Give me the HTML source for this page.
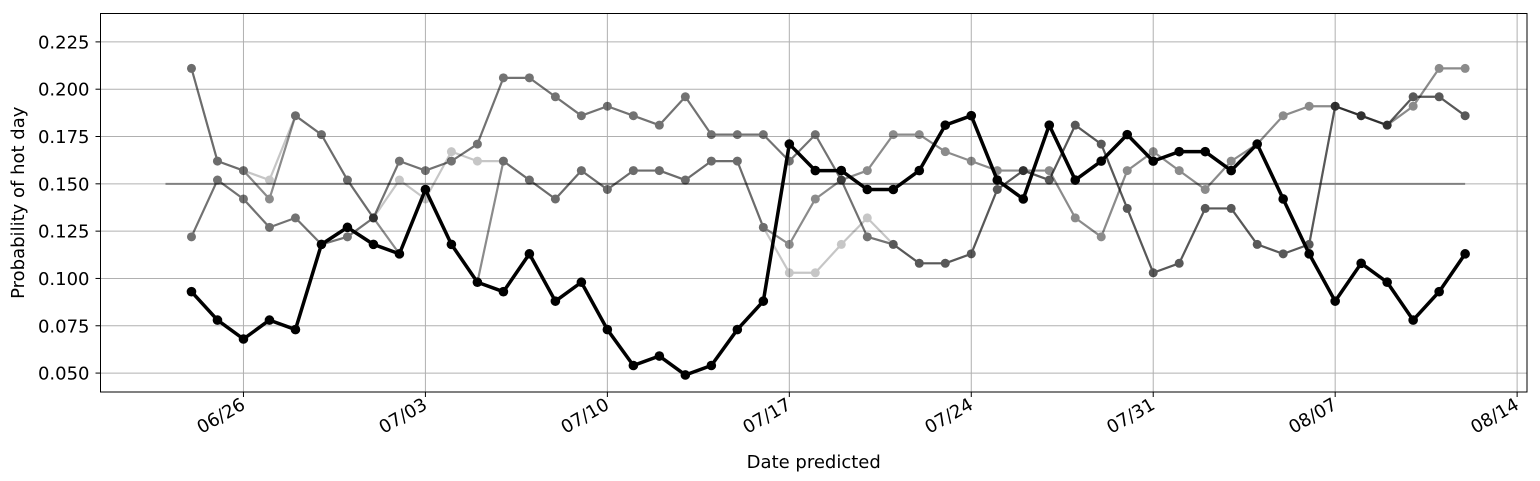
<!DOCTYPE html>
<html><head><meta charset="utf-8">
<style>
html,body{margin:0;padding:0;background:#fff;}
svg{display:block;font-family:"DejaVu Sans","Liberation Sans",sans-serif;}
</style></head>
<body>
<svg id="chart" width="1540" height="481" viewBox="0 0 1540 481" xmlns="http://www.w3.org/2000/svg"></svg>
<script>
const yTicks = [0.050,0.075,0.100,0.125,0.150,0.175,0.200,0.225];
const xTickLabels = ["06/26","07/03","07/10","07/17","07/24","07/31","08/07","08/14"];
const xTickDays = [2,9,16,23,30,37,44,51];
const baseline = 0.15;
const observed = [0.093,0.078,0.068,0.078,0.073,0.118,0.127,0.118,0.113,0.147,0.118,0.098,0.093,0.113,0.088,0.098,0.073,0.054,0.059,0.049,0.054,0.073,0.088,0.171,0.157,0.157,0.147,0.147,0.157,0.181,0.186,0.152,0.142,0.181,0.152,0.162,0.176,0.162,0.167,0.167,0.157,0.171,0.142,0.113,0.088,0.108,0.098,0.078,0.093,0.113];
const forecastDark = [0.122,0.152,0.142,0.127,0.132,0.118,0.122,0.132,0.162,0.157,0.162,0.171,0.206,0.206,0.196,0.186,0.191,0.186,0.181,0.196,0.176,0.176,0.176,0.162,0.176,0.152,0.122,0.118,0.108,0.108,0.113,0.147,0.157,0.152,0.181,0.171,0.137,0.103,0.108,0.137,0.137,0.118,0.113,0.118,0.191,0.186,0.181,0.196,0.196,0.186];
const forecastMid = [0.211,0.162,0.157,0.142,0.186,0.176,0.152,0.132,0.113,0.147,0.118,0.098,0.162,0.152,0.142,0.157,0.147,0.157,0.157,0.152,0.162,0.162,0.127,0.118,0.142,0.152,0.157,0.176,0.176,0.167,0.162,0.157,0.157,0.157,0.132,0.122,0.157,0.167,0.157,0.147,0.162,0.171,0.186,0.191,0.191,0.186,0.181,0.191,0.211,0.211];
const forecastLight = [0.211,0.162,0.157,0.152,0.186,0.176,0.152,0.132,0.152,0.142,0.167,0.162,0.162,0.152,0.142,0.157,0.147,0.157,0.157,0.152,0.162,0.162,0.127,0.103,0.103,0.118,0.132,0.118,0.108,0.108,0.113,0.147,0.157,0.152,0.181,0.171,0.137,0.103,0.108,0.137,0.137,0.118,0.113,0.118,0.191,0.186,0.181,0.196,0.196,0.186];

const L=100.5,R=1527,T=13.5,B=392;
const X0=-3.5,X1=51.38,Y0=0.04,Y1=0.24;
const sx=d=>L+(d-X0)/(X1-X0)*(R-L);
const sy=v=>B-(v-Y0)/(Y1-Y0)*(B-T);
const svg=document.getElementById('chart');
const NS='http://www.w3.org/2000/svg';
function mk(tag,attrs,parent){const e=document.createElementNS(NS,tag);for(const k in attrs)e.setAttribute(k,attrs[k]);(parent||svg).appendChild(e);return e;}

const grid=mk('g',{});


yTicks.forEach(v=>{
  const y=sy(v);
  const g=mk('line',{x1:L,x2:R,y1:y,y2:y,stroke:'#b0b0b0','stroke-width':1},grid);
  
  
  const t=mk('line',{x1:L-5,x2:L,y1:y,y2:y,stroke:'#000','stroke-width':1});
  
  
  const lb=mk('text',{x:L-11,y:y+6.5,'text-anchor':'end','font-size':18,fill:'#000'});
  lb.textContent=v.toFixed(3);
  
  
});
xTickDays.forEach((d,i)=>{
  const x=sx(d);
  const g=mk('line',{x1:x,x2:x,y1:T,y2:B,stroke:'#b0b0b0','stroke-width':1},grid);
  
  
  const t=mk('line',{x1:x,x2:x,y1:B,y2:B+5,stroke:'#000','stroke-width':1});
  
  
  const lb=mk('text',{x:0,y:0,'text-anchor':'end','font-size':18,fill:'#000',transform:`translate(${x+3},${B+16}) rotate(-30)`});
  lb.textContent=xTickLabels[i];
  
  
});

const bl=mk('line',{x1:sx(-1),x2:sx(49),y1:sy(baseline),y2:sy(baseline),stroke:'#808080','stroke-width':2});



function series(data,name,op,lw,r,color){
  const g=mk('g',{opacity:op});
  
  
  const pts=data.map((v,i)=>sx(i)+','+sy(v)).join(' ');
  mk('polyline',{points:pts,fill:'none',stroke:color,'stroke-width':lw,'stroke-linejoin':'round'},g);
  data.forEach((v,i)=>{
    const c=mk('circle',{cx:sx(i),cy:sy(v),r:r,fill:color},g);
    
    
  });
}
series(forecastLight,'forecast-light',0.22,2.2,4.5,'#000');
series(forecastMid,'forecast-mid',0.45,2.2,4.5,'#000');
series(forecastDark,'forecast-dark',0.55,2.2,4.5,'#000');
series(observed,'observed-series',1,3.5,4.8,'#000');

const fr=mk('rect',{x:L,y:T,width:R-L,height:B-T,fill:'none',stroke:'#000','stroke-width':1});



const xt=mk('text',{x:(L+R)/2,y:468,'text-anchor':'middle','font-size':18,fill:'#000'});
xt.textContent='Date predicted';


const yt=mk('text',{x:0,y:0,'text-anchor':'middle','font-size':18,fill:'#000',transform:`translate(24,${(T+B)/2}) rotate(-90)`});
yt.textContent='Probability of hot day';


</script>
</body></html>
